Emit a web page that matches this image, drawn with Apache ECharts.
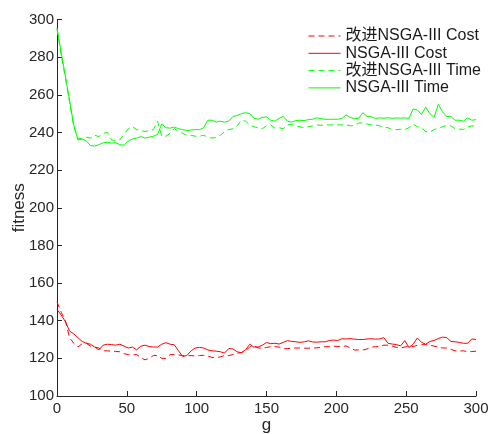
<!DOCTYPE html>
<html>
<head>
<meta charset="utf-8">
<script src="https://cdn.jsdelivr.net/npm/echarts@6/dist/echarts.min.js"></script>
<style>html,body{margin:0;padding:0;background:#fff}#c{width:494px;height:434px}</style>
</head>
<body>
<div id="c"></div>
<script>
// generations sampled every 3
var gens = [];
for (var g = 0; g <= 300; g += 3) gens.push(g);

var seriesNames = ['改进NSGA-III Cost', 'NSGA-III Cost', '改进NSGA-III Time', 'NSGA-III Time'];

var timeBase = [295.5,282.5,270,257,244,236,236.5,235.5,233,232.8,233.5,234.5,234.8,234.3,234.6,233.5,233.2,235.5,236.5,237,237.8,237,237.5,238,239,244.5,242.5,242.3,242.8,242,241.5,241,241.3,241.5,241.5,242.5,246.5,246.5,245.5,246,245.5,246,248.5,249,250,250.5,250,247.5,247,248,248.3,246.5,246,247.5,248.5,246,245.5,246.3,246.5,246.3,246.8,247,247.8,247.3,247,247,247,247,247.5,249.3,248,247.3,247.5,250.5,248.5,248.3,247.5,247.7,247.6,247.8,247.5,247.7,247.6,247.7,247.5,252.5,252,249.5,253.5,250,248,255,251,248.5,248.5,246.5,246.5,246,247.7,246.5,246.8];

var timeImproved = [295,281,269,256,243,237,236.5,237.5,237,238.5,237.8,239.5,240,236,235.8,236,239,242,243,241.5,241,240.5,241,241.5,246,238,238,239.5,242,240.5,239.5,238.5,238.5,238,238,238.5,237.5,237,237.3,238.5,240.5,241.5,242,243.5,246.5,246,244,243,242.5,242,243.5,244,242.3,242.5,242,244,244.2,243.5,243,242.5,243,243.5,244,243.8,244,244,244,244,244,244,243.5,243.8,245,245,244.5,244,244,243.5,242.8,242.5,241.6,241.5,241.7,241.6,242.5,244.5,243,242.5,240.5,240.2,241.5,242.3,243,243.7,243.5,242,241.8,241.6,243,243.5,243.5];

var costBase = [146,143,139.5,134.5,133,131,129,128,127.5,126,124.5,127,127.5,127.3,127,127.5,126.5,125.5,126,124.5,126.5,127,126.3,126,126,127.5,128.3,127.5,127.2,124,121,121.5,124,125.5,125.8,125.5,124.5,124,123.8,123.5,122.8,125.2,125,123.5,123,124.5,127.5,126,126,127,128.4,127.8,128,127.6,128.5,129.4,129,128.8,128.5,128.8,129.3,128.7,128.6,128.8,128.8,129.5,129.7,129.5,130.4,130.3,130.5,130.2,130,130,130.3,130.4,130.2,130.3,131,128,127.6,127.3,126.6,129.4,125.8,127.5,130.8,128.5,127.5,129,129.5,130.5,131.3,131,129,128.8,128.5,128,128,130.3,130];

var costImproved = [150,144.5,140,131,128,126,127.8,128,126.5,126,125.5,124,124,123.8,123.7,123.5,122.5,122,121.8,122,120.5,119.2,120,121.5,121.5,120,120,122,122,121.8,121.5,121.3,121.5,121.2,121.5,121.6,121.2,120.5,120.4,120.8,121.5,121.5,122,122.8,123,124,126,126.8,125.5,125.4,125.8,126.2,126.2,126,125,125.2,125.3,125.5,125.5,125.4,125.4,125.4,125.6,125.8,126.2,126.2,126.5,126.3,126.2,126.6,125.5,124.4,124.5,124.4,125,126,126.2,126.3,127,127,126.5,125.8,125.5,126,126.5,126.2,127,127.2,127.3,127,126.5,126,125.5,125.5,124.8,124,123.9,124,123.5,123.6,123.8];

var yTicks = {min: 100, max: 300, step: 20};
var xTicks = {min: 0, max: 300, step: 50};

function pairs(vals) { return gens.map(function (x, i) { return [x, vals[i]]; }); }

var FONT = '"Liberation Sans", Arial, "Noto Sans CJK SC", sans-serif';
var AX = '#262626';

var chart = echarts.init(document.getElementById('c'), null, {renderer: 'canvas'});
chart.setOption({
  animation: false,
  backgroundColor: '#fff',
  grid: {left: 57, right: 18, top: 19.5, bottom: 38, containLabel: false, outerBoundsMode: 'none'},
  legend: {
    data: seriesNames,
    orient: 'vertical',
    left: 308,
    top: 27.5,
    padding: 0,
    itemGap: 0.3,
    itemWidth: 32,
    itemHeight: 17,
    itemStyle: {opacity: 0},
    lineStyle: {width: 1},
    textStyle: {fontFamily: FONT, fontSize: 16, color: '#1a1a1a', lineHeight: 17},
    selectedMode: false
  },
  xAxis: {
    type: 'value', min: xTicks.min, max: xTicks.max, interval: xTicks.step,
    name: 'g', nameLocation: 'middle', nameGap: 21, nameMoveOverlap: false,
    nameTextStyle: {fontFamily: FONT, fontSize: 17, color: AX},
    axisLine: {show: true, lineStyle: {color: AX, width: 1}},
    axisTick: {show: true, inside: true, length: 5, lineStyle: {color: AX}},
    axisLabel: {fontFamily: FONT, fontSize: 15, color: AX, margin: 5},
    splitLine: {show: false}
  },
  yAxis: {
    type: 'value', min: yTicks.min, max: yTicks.max, interval: yTicks.step,
    name: 'fitness', nameLocation: 'middle', nameGap: 29, nameMoveOverlap: false,
    nameTextStyle: {fontFamily: FONT, fontSize: 17, color: AX},
    axisLine: {show: true, lineStyle: {color: AX, width: 1}},
    axisTick: {show: true, inside: true, length: 5, lineStyle: {color: AX}},
    axisLabel: {fontFamily: FONT, fontSize: 15, color: AX, margin: 3},
    splitLine: {show: false}
  },
  series: [
    {name: seriesNames[0], type: 'line', symbol: 'none', data: pairs(costImproved),
     lineStyle: {color: '#ff0000', width: 1, type: [6, 4]}, itemStyle: {color: '#ff0000'}},
    {name: seriesNames[1], type: 'line', symbol: 'none', data: pairs(costBase),
     lineStyle: {color: '#ff0000', width: 1}, itemStyle: {color: '#ff0000'}},
    {name: seriesNames[2], type: 'line', symbol: 'none', data: pairs(timeImproved),
     lineStyle: {color: '#00ff00', width: 1, type: [6, 4]}, itemStyle: {color: '#00ff00'}},
    {name: seriesNames[3], type: 'line', symbol: 'none', data: pairs(timeBase),
     lineStyle: {color: '#00ff00', width: 1}, itemStyle: {color: '#00ff00'}}
  ]
});
</script>
</body>
</html>
